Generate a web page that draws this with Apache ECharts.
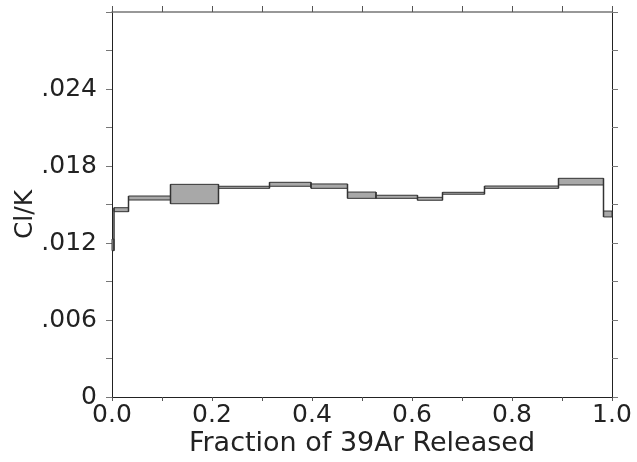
<!DOCTYPE html>
<html>
<head>
<meta charset="utf-8">
<style>html,body{margin:0;padding:0;background:#fff;}#c{width:637px;height:462px;}</style>
<script src="https://cdn.jsdelivr.net/npm/echarts@6/dist/echarts.min.js"></script>
</head>
<body>
<div id="c"></div>
<script>
// Step boundaries (fraction of 39Ar released)
const fracStart = [0.000, 0.004, 0.033, 0.117, 0.213, 0.315, 0.398, 0.471, 0.528, 0.611, 0.661, 0.745, 0.893, 0.983];
const fracEnd   = [0.004, 0.033, 0.117, 0.213, 0.315, 0.398, 0.471, 0.528, 0.611, 0.661, 0.745, 0.893, 0.983, 1.000];
// Cl/K lower and upper bounds of each step box
const clkLow  = [0.01140, 0.01444, 0.01535, 0.01506, 0.01626, 0.01642, 0.01626, 0.01548, 0.01548, 0.01533, 0.01580, 0.01626, 0.01652, 0.01403];
const clkHigh = [0.01231, 0.01475, 0.01566, 0.01657, 0.01642, 0.01673, 0.01660, 0.01597, 0.01572, 0.01556, 0.01595, 0.01644, 0.01704, 0.01449];
// Tick labels
const xTickValues = [0, 0.2, 0.4, 0.6, 0.8, 1.0];
const xTickLabels = ['0.0', '0.2', '0.4', '0.6', '0.8', '1.0'];
const yTickValues = [0, 0.006, 0.012, 0.018, 0.024];
const yTickLabels = ['0', '.006', '.012', '.018', '.024'];

const FONT = 'DejaVu Sans';
const data = fracStart.map((s, i) => [s, fracEnd[i], clkLow[i], clkHigh[i]]);

function lookup(vals, labels, v) {
  for (let i = 0; i < vals.length; i++) if (Math.abs(vals[i] - v) < 1e-9) return labels[i];
  return '';
}

const chart = echarts.init(document.getElementById('c'), null, {renderer: 'canvas'});
chart.setOption({
  animation: false,
  backgroundColor: '#ffffff',
  grid: {left: 112, right: 25, top: 12, bottom: 65, containLabel: false, outerBoundsMode: 'none'},
  xAxis: [{
    type: 'value', min: 0, max: 1, interval: 0.2, position: 'bottom',
    name: 'Fraction of 39Ar Released', nameLocation: 'middle', nameGap: 33, nameMoveOverlap: false,
    nameTextStyle: {fontFamily: FONT, fontSize: 27, color: '#222'},
    axisLine: {show: true, onZero: false, lineStyle: {color: '#222', width: 1}},
    axisTick: {show: true, inside: false, length: 4, lineStyle: {color: '#555'}},
    minorTick: {show: true, splitNumber: 2, length: 4, lineStyle: {color: '#555'}},
    splitLine: {show: false},
    axisLabel: {margin: 6, fontFamily: FONT, fontSize: 25, color: '#222',
      formatter: v => lookup(xTickValues, xTickLabels, v)}
  }, {
    type: 'value', min: 0, max: 1, interval: 0.1, position: 'top',
    axisLine: {show: true, onZero: false, lineStyle: {color: '#777', width: 1.5}},
    axisTick: {show: true, inside: false, length: 6, lineStyle: {color: '#555'}},
    splitLine: {show: false}, axisLabel: {show: false}
  }],
  yAxis: [{
    type: 'value', min: 0, max: 0.03, interval: 0.006, position: 'left',
    name: 'Cl/K', nameLocation: 'middle', nameGap: 74, nameRotate: 90, nameMoveOverlap: false,
    nameTextStyle: {fontFamily: FONT, fontSize: 25, color: '#222', padding: [0, 20, 0, 0]},
    axisLine: {show: true, onZero: false, lineStyle: {color: '#222', width: 1}},
    axisTick: {show: true, inside: false, length: 6, lineStyle: {color: '#777'}},
    minorTick: {show: true, splitNumber: 2, length: 6, lineStyle: {color: '#777'}},
    splitLine: {show: false},
    axisLabel: {margin: 15, fontFamily: FONT, fontSize: 25, color: '#222',
      formatter: v => lookup(yTickValues, yTickLabels, v)}
  }, {
    type: 'value', min: 0, max: 0.03, interval: 0.003, position: 'right',
    axisLine: {show: true, onZero: false, lineStyle: {color: '#222', width: 1}},
    axisTick: {show: true, inside: false, length: 6, lineStyle: {color: '#777'}},
    splitLine: {show: false}, axisLabel: {show: false}
  }],
  series: [{
    type: 'custom',
    xAxisIndex: 0, yAxisIndex: 0,
    data: data,
    encode: {x: [0, 1], y: [2, 3]},
    clip: false,
    renderItem: function (params, api) {
      const i = params.dataIndex;
      const p0 = api.coord([api.value(0), api.value(3)]);
      const p1 = api.coord([api.value(1), api.value(2)]);
      const children = [{
        type: 'rect',
        shape: {x: p0[0], y: p0[1], width: p1[0] - p0[0], height: p1[1] - p0[1]},
        style: {fill: '#a8a8a8', stroke: '#333', lineWidth: 1}
      }];
      if (i > 0) {
        const lo = Math.min(clkLow[i], clkLow[i - 1]);
        const hi = Math.max(clkHigh[i], clkHigh[i - 1]);
        const a = api.coord([fracStart[i], lo]);
        const b = api.coord([fracStart[i], hi]);
        children.push({type: 'line', shape: {x1: a[0], y1: a[1], x2: b[0], y2: b[1]},
          style: {stroke: '#333', lineWidth: 1.5}});
      }
      return {type: 'group', children: children};
    }
  }]
});
</script>
</body>
</html>
